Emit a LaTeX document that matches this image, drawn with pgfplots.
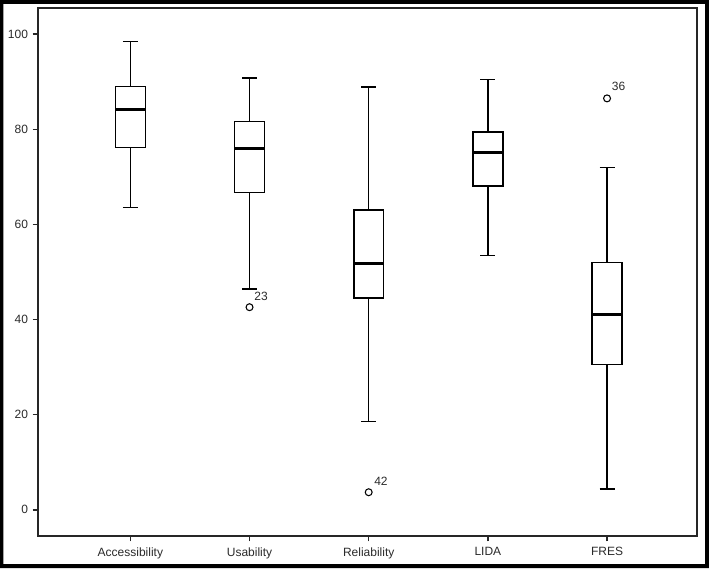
\documentclass[border=0pt]{standalone}
\usepackage{pgfplots}
\pgfplotsset{compat=1.18}
\usepgfplotslibrary{statistics}
\usepackage{fontspec}
\setmainfont{Liberation Sans}
\definecolor{txt}{HTML}{2A2A2A}
\begin{document}
\begin{tikzpicture}
\useasboundingbox (0,0) rectangle (531.75pt,426pt);
\fill[black,even odd rule] (0,0) rectangle (531.75pt,426pt) (2.5pt,3pt) rectangle (528.75pt,423pt);
\begin{axis}[
  at={(28.5pt,24pt)}, anchor=south west,
  scale only axis, width=494.25pt, height=396pt,
  xmin=0.225, xmax=5.755, ymin=-5.5, ymax=105.5,
  axis line style={line width=1pt, black!85},
  xtick={1,2,3,4,5},
  xticklabels={Accessibility,Usability,Reliability,LIDA,FRES},
  ytick={0,20,40,60,80,100},
  tick pos=left,
  tick align=outside,
  major tick length=4pt,
  tick style={line width=1pt, black!85},
  /pgf/number format/assume math mode=true,
  ticklabel style={font=\fontsize{9}{10}\selectfont, text=txt},
  xticklabel style={yshift=-1pt},
  boxplot/draw direction=y,
  boxplot/box extend=0.25,
  boxplot/whisker extend=0.126,
  boxplot/every median/.append style={line width=2.1pt},
]
\addplot[black, line width=1.1pt, mark=o, mark size=2.6pt, mark options={line width=0.8pt, fill=white},
  boxplot prepared={lower whisker=63.6, lower quartile=76.2, median=84.2, upper quartile=89.0, upper whisker=98.5, draw position=1}]
  coordinates {};
\addplot[black, line width=1.1pt, mark=o, mark size=2.6pt, mark options={line width=0.8pt, fill=white},
  boxplot prepared={lower whisker=46.4, lower quartile=66.7, median=76.0, upper quartile=81.6, upper whisker=90.8, draw position=2}]
  coordinates {(2,42.6)};
\addplot[black, line width=1.1pt, mark=o, mark size=2.6pt, mark options={line width=0.8pt, fill=white},
  boxplot prepared={lower whisker=18.6, lower quartile=44.5, median=51.8, upper quartile=63.0, upper whisker=88.9, draw position=3}]
  coordinates {(3,3.7)};
\addplot[black, line width=1.1pt, mark=o, mark size=2.6pt, mark options={line width=0.8pt, fill=white},
  boxplot prepared={lower whisker=53.5, lower quartile=68.1, median=75.1, upper quartile=79.4, upper whisker=90.5, draw position=4}]
  coordinates {};
\addplot[black, line width=1.1pt, mark=o, mark size=2.6pt, mark options={line width=0.8pt, fill=white},
  boxplot prepared={lower whisker=4.4, lower quartile=30.6, median=41.1, upper quartile=52.0, upper whisker=72.0, draw position=5}]
  coordinates {(5,86.5)};
\node[anchor=south west, inner sep=0pt, xshift=3.5pt, yshift=5pt, font=\fontsize{9}{10}\selectfont, text=txt] at (axis cs:2,42.6) {23};
\node[anchor=south west, inner sep=0pt, xshift=4pt, yshift=5pt, font=\fontsize{9}{10}\selectfont, text=txt] at (axis cs:3,3.7) {42};
\node[anchor=south west, inner sep=0pt, xshift=3.5pt, yshift=5.5pt, font=\fontsize{9}{10}\selectfont, text=txt] at (axis cs:5,86.5) {36};
\end{axis}
\end{tikzpicture}
\end{document}
